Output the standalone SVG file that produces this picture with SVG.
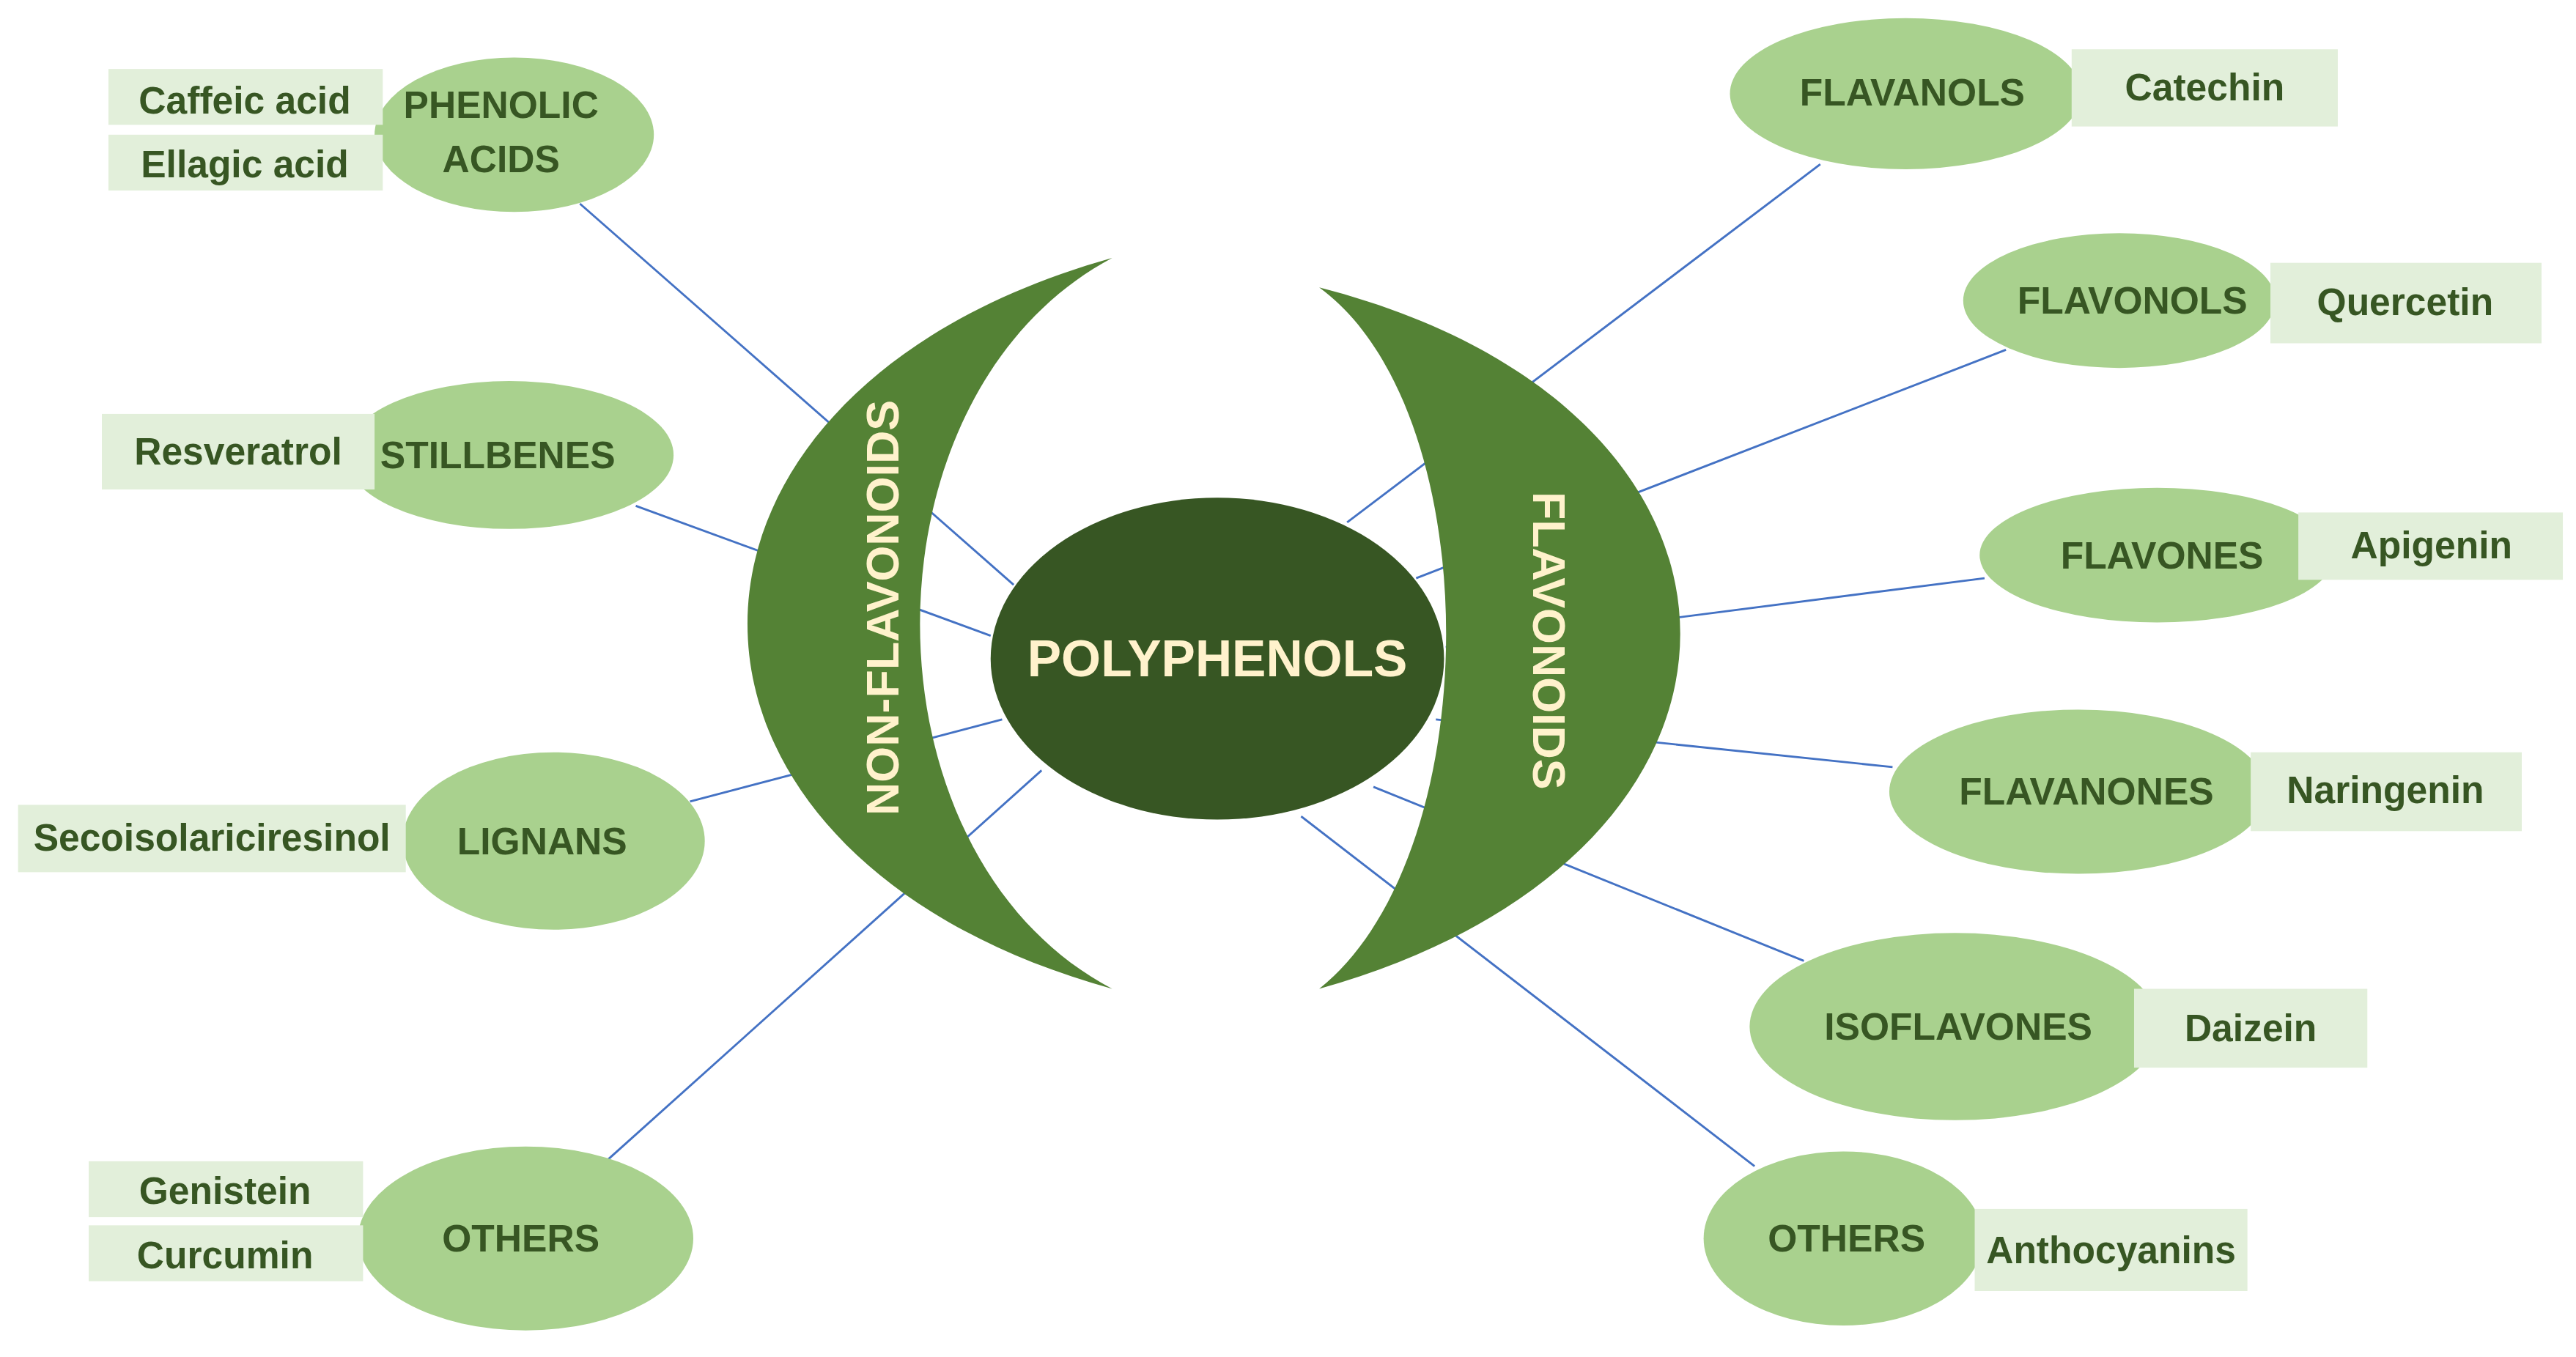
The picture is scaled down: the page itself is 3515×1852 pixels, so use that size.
<svg xmlns="http://www.w3.org/2000/svg" width="3515" height="1852" viewBox="0 0 3515 1852">
<style>
.e{fill:#A9D18E}
.r{fill:#E2EFDA}
.t{font-family:"Liberation Sans",Arial,sans-serif;font-weight:bold;font-size:23px;fill:#375623;text-anchor:middle;dominant-baseline:central}
.w{font-family:"Liberation Sans",Arial,sans-serif;font-weight:bold;fill:#FFF2CC;text-anchor:middle;dominant-baseline:central}
.c{fill:#548235}
#connectors line{stroke:#4472C4;stroke-width:1.3}
</style>
<rect width="3515" height="1852" fill="#fff"/>
<g transform="scale(2.2417)">
<g id="connectors">
<line x1="353" y1="124" x2="617" y2="356"/>
<line x1="387" y1="308" x2="603" y2="387"/>
<line x1="420" y1="488" x2="610" y2="438"/>
<line x1="370" y1="706" x2="634" y2="469"/>
<line x1="1108" y1="100" x2="820" y2="318"/>
<line x1="1221" y1="213" x2="862" y2="352"/>
<line x1="1208" y1="352" x2="880" y2="394"/>
<line x1="1152" y1="467" x2="874" y2="438"/>
<line x1="1098" y1="585" x2="836" y2="479"/>
<line x1="1068" y1="710" x2="792" y2="497"/>
</g>
<g id="nonflav"><path class="c" d="M677,157 C381,240 381,520 677,602 C521,520 521,240 677,157Z"/><text class="w" font-size="28" transform="translate(537,370) rotate(-90)">NON-FLAVONOIDS</text></g>
<g id="flav"><path class="c" d="M803,175 C1096,250 1096,520 803,602 C906,520 906,250 803,175Z"/><text class="w" font-size="28" transform="translate(943,390) rotate(90)">FLAVONOIDS</text></g>
<g id="center"><ellipse cx="741" cy="401" rx="138" ry="98" fill="#375623"/><text class="w" font-size="31" x="741" y="401">POLYPHENOLS</text></g>
<g id="phenolic"><ellipse class="e" cx="313" cy="82" rx="85" ry="47"/><text class="t" x="305" y="64">PHENOLIC</text><text class="t" x="305" y="97">ACIDS</text></g>
<g id="stillbenes"><ellipse class="e" cx="310" cy="277" rx="100" ry="45"/><text class="t" x="303" y="277">STILLBENES</text></g>
<g id="lignans"><ellipse class="e" cx="337" cy="512" rx="92" ry="54"/><text class="t" x="330" y="512">LIGNANS</text></g>
<g id="others-l"><ellipse class="e" cx="320" cy="754" rx="102" ry="56"/><text class="t" x="317" y="754">OTHERS</text></g>
<g id="flavanols"><ellipse class="e" cx="1160" cy="57" rx="107" ry="46"/><text class="t" x="1164" y="56">FLAVANOLS</text></g>
<g id="flavonols"><ellipse class="e" cx="1290" cy="183" rx="95" ry="41"/><text class="t" x="1298" y="183">FLAVONOLS</text></g>
<g id="flavones"><ellipse class="e" cx="1313" cy="338" rx="108" ry="41"/><text class="t" x="1316" y="338">FLAVONES</text></g>
<g id="flavanones"><ellipse class="e" cx="1265" cy="482" rx="115" ry="50"/><text class="t" x="1270" y="482">FLAVANONES</text></g>
<g id="isoflavones"><ellipse class="e" cx="1190" cy="625" rx="125" ry="57"/><text class="t" x="1192" y="625">ISOFLAVONES</text></g>
<g id="others-r"><ellipse class="e" cx="1122" cy="754" rx="85" ry="53"/><text class="t" x="1124" y="754">OTHERS</text></g>
<g id="caffeic"><rect class="r" x="66" y="42" width="167" height="34"/><text class="t" x="149" y="61">Caffeic acid</text></g>
<g id="ellagic"><rect class="r" x="66" y="82" width="167" height="34"/><text class="t" x="149" y="100">Ellagic acid</text></g>
<g id="resveratrol"><rect class="r" x="62" y="252" width="166" height="46"/><text class="t" x="145" y="275">Resveratrol</text></g>
<g id="secoiso"><rect class="r" x="11" y="490" width="236" height="41"/><text class="t" x="129" y="510">Secoisolariciresinol</text></g>
<g id="genistein"><rect class="r" x="54" y="707" width="167" height="34"/><text class="t" x="137" y="725">Genistein</text></g>
<g id="curcumin"><rect class="r" x="54" y="746" width="167" height="34"/><text class="t" x="137" y="764">Curcumin</text></g>
<g id="catechin"><rect class="r" x="1261" y="30" width="162" height="47"/><text class="t" x="1342" y="53">Catechin</text></g>
<g id="quercetin"><rect class="r" x="1382" y="160" width="165" height="49"/><text class="t" x="1464" y="184">Quercetin</text></g>
<g id="apigenin"><rect class="r" x="1399" y="312" width="161" height="41"/><text class="t" x="1480" y="332">Apigenin</text></g>
<g id="naringenin"><rect class="r" x="1370" y="458" width="165" height="48"/><text class="t" x="1452" y="481">Naringenin</text></g>
<g id="daizein"><rect class="r" x="1299" y="602" width="142" height="48"/><text class="t" x="1370" y="626">Daizein</text></g>
<g id="anthocyanins"><rect class="r" x="1202" y="736" width="166" height="50"/><text class="t" x="1285" y="761">Anthocyanins</text></g>
</g>
</svg>
